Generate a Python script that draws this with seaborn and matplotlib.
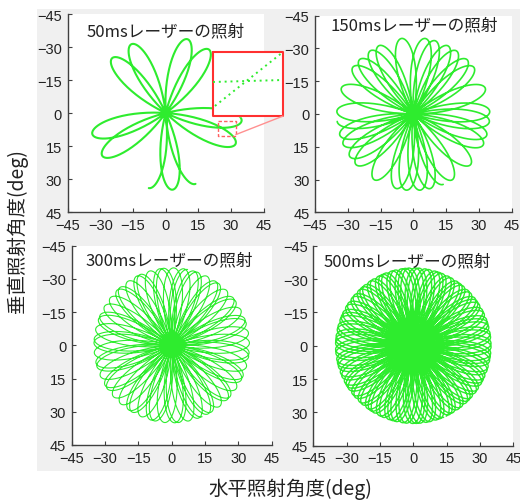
import numpy as np
import pandas as pd
import matplotlib
matplotlib.use("Agg")
import matplotlib.pyplot as plt
import seaborn as sns
from matplotlib.patches import Rectangle

# ---------------- data ----------------
durations_ms = [50, 150, 300, 500]
titles = ["50msレーザーの照射", "150msレーザーの照射", "300msレーザーの照射", "500msレーザーの照射"]
petal_counts = [10, 30, 60, 100]      # rosette petals traced during each irradiation time
scan_amplitude_deg = 35.0             # petal tip radius
start_angle_deg = 67.0                # direction of the first petal tip
petal_step_deg = 39.58                # angular advance of the rosette per petal
tick_values = [-45, -30, -15, 0, 15, 30, 45]
xlabel_text = "水平照射角度(deg)"
ylabel_text = "垂直照射角度(deg)"

# magnified inset of the 50 ms panel
inset_box_x = [21.7, 53.8, 53.8, 21.7, 21.7]
inset_box_y = [-27.7, -27.7, 1.4, 1.4, -27.7]
inset_line1_x = [21.7, 53.8]
inset_line1_y = [-14.1, -15.0]
inset_line2_x = [22.6, 53.8]
inset_line2_y = [-3.2, -27.7]
detail_box_x = [24.0, 32.2, 32.2, 24.0, 24.0]
detail_box_y = [3.6, 3.6, 10.5, 10.5, 3.6]
connector_x = [32.2, 53.8]
connector_y = [9.8, 1.4]

# ---------------- style / layout ----------------
W, H = 520, 502
GREEN = "#2eec2e"
AX_COLOR = "#404040"
TXT = "#222222"
line_widths = [1.5, 1.2, 0.8, 1.0]
# axes boxes in pixels: left, top, right, bottom
ax_px = [(67.6, 15.0, 263.8, 213.0),
         (315.0, 16.7, 511.6, 213.3),
         (71.7, 246.7, 271.7, 446.0),
         (313.3, 246.7, 513.3, 446.7)]
title_xy = [(-36.1, -37.3), (-38.1, -40.7), (-39.0, -38.7), (-40.6, -38.2)]
gray_px = [(37, 10, 276, 239), (276, 10, 520, 239), (37, 239, 276, 472), (276, 239, 520, 472)]

sns.set_theme(style="white")
plt.rcParams["font.family"] = ["Noto Sans CJK JP", "DejaVu Sans"]
plt.rcParams["axes.unicode_minus"] = True

fig = plt.figure(figsize=(W / 100, H / 100), dpi=100)
fig.patch.set_facecolor("white")

for (l, t, r, b) in gray_px:
    fig.patches.append(Rectangle((l / W, 1 - b / H), (r - l) / W, (b - t) / H,
                                 transform=fig.transFigure, facecolor="#f0f0f0",
                                 edgecolor="none", zorder=-5))


def rosette(n_petals):
    s = np.linspace(0, n_petals, n_petals * 140 + 1)
    r = scan_amplitude_deg * np.cos(np.pi * s)
    th = np.deg2rad(start_angle_deg + petal_step_deg * s)
    return pd.DataFrame({"x": r * np.cos(th), "y": r * np.sin(th)})


axes = []
for i, (l, t, r, b) in enumerate(ax_px):
    ax = fig.add_axes([l / W, 1 - b / H, (r - l) / W, (b - t) / H])
    ax.set_facecolor("white")
    df = rosette(petal_counts[i])
    sns.lineplot(data=df, x="x", y="y", sort=False, estimator=None, ax=ax,
                 color=GREEN, linewidth=line_widths[i], legend=False)
    ax.set_xlim(-45, 45)
    ax.set_ylim(45, -45)
    ax.set_xticks(tick_values)
    ax.set_yticks(tick_values)
    ax.set_xlabel("")
    ax.set_ylabel("")
    for side in ["top", "right"]:
        ax.spines[side].set_visible(False)
    for side in ["left", "bottom"]:
        ax.spines[side].set_color(AX_COLOR)
        ax.spines[side].set_linewidth(1.0)
    ax.tick_params(direction="in", length=3, width=0.8, color=AX_COLOR,
                   labelsize=10.5, labelcolor=TXT, pad=4,
                   left=True, bottom=True)
    for lab in ax.get_xticklabels() + ax.get_yticklabels():
        lab.set_fontfamily(["Liberation Sans", "DejaVu Sans"])
    ax.text(title_xy[i][0], title_xy[i][1], titles[i], ha="left", va="center",
            fontsize=12, color=TXT)
    axes.append(ax)

# inset in the 50 ms panel
ax0 = axes[0]
ax0.set_zorder(2)
ax0.fill(inset_box_x, inset_box_y, color="white", clip_on=False, zorder=6)
ax0.plot(inset_box_x, inset_box_y, color="#ff3030", lw=1.5, clip_on=False, zorder=7)
ax0.plot(inset_line1_x, inset_line1_y, color=GREEN, lw=1.4, ls=(0, (1, 2)),
         clip_on=False, zorder=7)
ax0.plot(inset_line2_x, inset_line2_y, color=GREEN, lw=1.4, ls=(0, (1, 2)),
         clip_on=False, zorder=7)
ax0.plot(detail_box_x, detail_box_y, color="#ff6060", lw=1.0, ls=(0, (2.5, 1.5)),
         zorder=7)
ax0.plot(connector_x, connector_y, color="#ff9090", lw=1.0, clip_on=False, zorder=7)

fig.text(17 / W, 1 - 231 / H, ylabel_text, rotation=90, ha="center", va="center",
         fontsize=14, color=TXT)
fig.text(290 / W, 1 - 489 / H, xlabel_text, ha="center", va="center",
         fontsize=14, color=TXT)

fig.savefig("out.png", dpi=100)
